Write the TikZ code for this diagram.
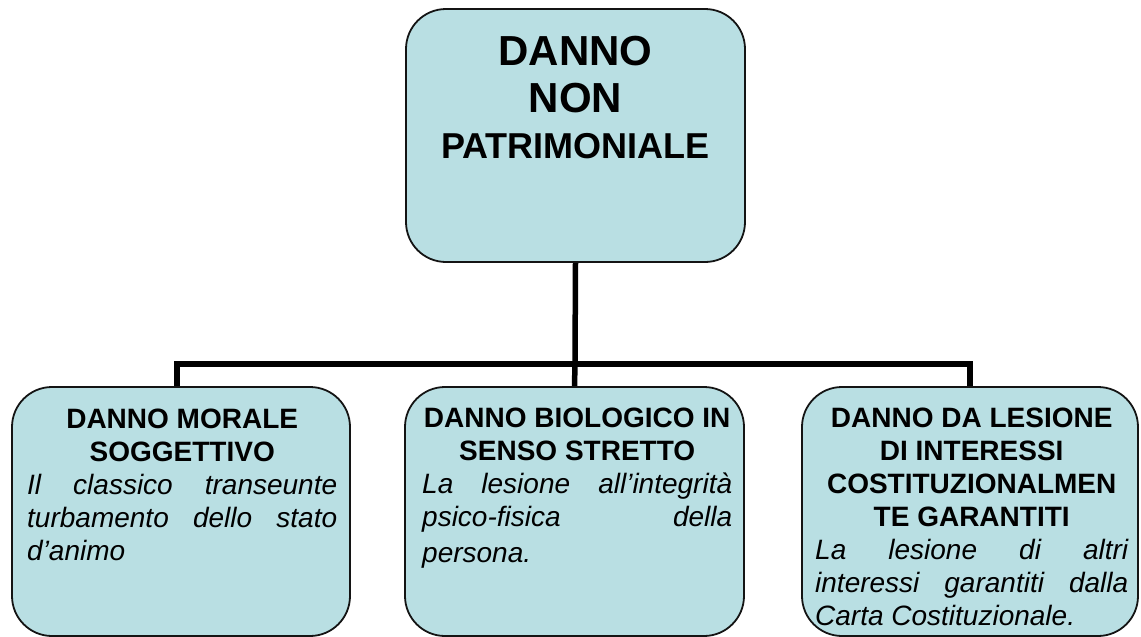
\documentclass[tikz,border=0pt]{standalone}
\usepackage{fontspec}
\setmainfont{Liberation Sans}
\usetikzlibrary{backgrounds}
\definecolor{boxfill}{RGB}{185,223,227}
\definecolor{boxline}{RGB}{20,20,20}
\tikzset{
  box/.style={draw=boxline, line width=1.8pt, fill=boxfill, rounded corners=40pt, inner sep=0pt},
  conn/.style={draw=black, line width=5.5pt, line join=miter, line cap=butt},
  txt/.style={inner sep=0pt, anchor=base west},
}
\newcommand{\headfont}{\bfseries\fontsize{28}{33}\selectfont}
\newcommand{\bodyfont}{\itshape\fontsize{28}{33}\selectfont}
\begin{document}
\begin{tikzpicture}[x=1pt,y=-1pt]
\useasboundingbox (0,0) rectangle (1141,637);
\node[box, minimum width=339pt, minimum height=253pt] (top) at (575.5,135.5) {};
\node[box, minimum width=338pt, minimum height=249pt] (b1) at (181,511.5) {};
\node[box, minimum width=339pt, minimum height=249pt] (b2) at (574.5,511.5) {};
\node[box, minimum width=336pt, minimum height=249pt] (b3) at (970,511.5) {};
\coordinate (j) at (575,364);
\coordinate (b1top) at ([xshift=-4pt]b1.north);
\begin{scope}[on background layer]
\draw[conn] (top.south) -- (j);
\draw[conn] (b1top) |- (j) -| (b3.north);
\draw[conn] (j) -- (b2.north);
\end{scope}
% texts
\node[inner sep=0pt, anchor=base] (ttop) at (575.5,65) {\parbox[t]{330pt}{\centering\bfseries
  \fontsize{42}{47}\selectfont DANNO\\NON\\\fontsize{36}{46.5}\selectfont PATRIMONIALE\par}};
\node[txt] (t1) at (27,428) {\parbox[t]{310pt}{%
  {\centering\headfont DANNO MORALE\\SOGGETTIVO\par}
  \bodyfont\noindent Il classico transeunte\linebreak turbamento dello stato\linebreak d’animo\par}};
\node[txt] (t2) at (422,427) {\parbox[t]{310pt}{%
  {\centering\headfont DANNO BIOLOGICO IN\\SENSO STRETTO\par}
  \bodyfont\noindent La lesione all’integrità\linebreak psico-fisica della\linebreak\rule{0pt}{30pt}persona.\par}};
\node[txt] (t3) at (815,427) {\parbox[t]{313pt}{%
  {\centering\headfont DANNO DA LESIONE\\DI INTERESSI\\COSTITUZIONALMEN\\TE GARANTITI\par}
  \bodyfont\noindent La lesione di altri\linebreak interessi garantiti dalla\linebreak Carta Costituzionale.\par}};
\end{tikzpicture}
\end{document}
